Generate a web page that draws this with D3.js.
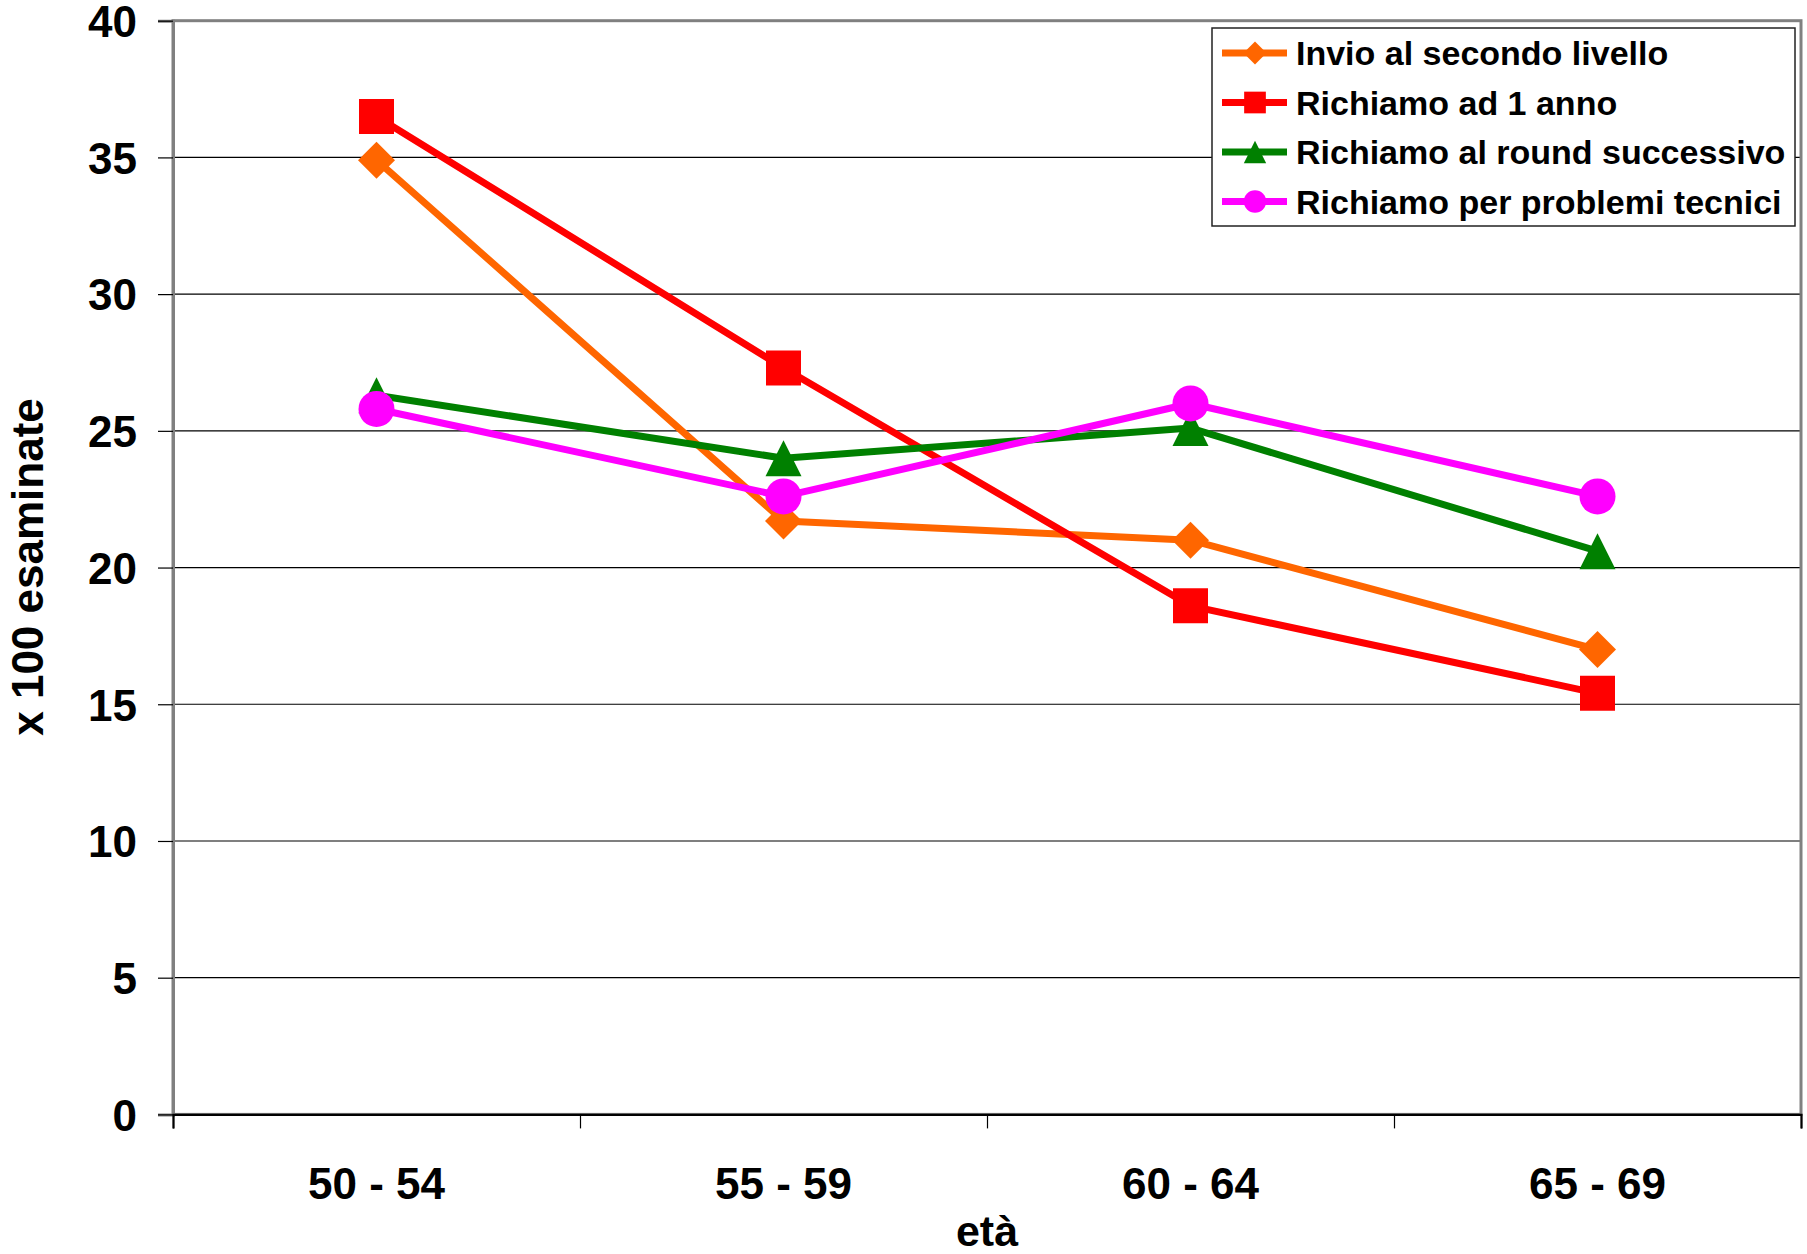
<!DOCTYPE html>
<html>
<head>
<meta charset="utf-8">
<script src="https://cdn.jsdelivr.net/npm/d3@7"></script>
<style>
  html, body { margin: 0; padding: 0; background: #fff; }
  svg { display: block; font-family: "Liberation Sans", Arial, sans-serif; font-weight: bold; }
</style>
</head>
<body>
<svg id="chart" width="1807" height="1254"></svg>
<script>
// Age groups and rates per 100 women screened
const categories = ["50 - 54", "55 - 59", "60 - 64", "65 - 69"];
const invioSecondoLivello = [34.9, 21.7, 21.0, 17.0];
const richiamoUnAnno = [36.5, 27.3, 18.6, 15.4];
const richiamoRoundSuccessivo = [26.3, 24.0, 25.1, 20.6];
const richiamoProblemiTecnici = [25.8, 22.6, 26.0, 22.6];
const seriesNames = [
  "Invio al secondo livello",
  "Richiamo ad 1 anno",
  "Richiamo al round successivo",
  "Richiamo per problemi tecnici"
];
const yTicks = [0, 5, 10, 15, 20, 25, 30, 35, 40];

const series = [
  { name: seriesNames[0], values: invioSecondoLivello, color: "#FF6600", marker: "diamond" },
  { name: seriesNames[1], values: richiamoUnAnno, color: "#FF0000", marker: "square" },
  { name: seriesNames[2], values: richiamoRoundSuccessivo, color: "#008000", marker: "triangle" },
  { name: seriesNames[3], values: richiamoProblemiTecnici, color: "#FF00FF", marker: "circle" }
];

const svg = d3.select("#chart");
const plotLeft = 173, plotRight = 1801, plotTop = 20.7, plotBottom = 1114.4;

const x = d3.scaleBand().domain(categories).range([plotLeft, plotRight]).padding(0);
const xEdges = d3.scaleLinear().domain([0, categories.length]).range([plotLeft, plotRight]);
const y = d3.scaleLinear().domain([0, 40]).range([plotBottom, plotTop]);

// horizontal gridlines
svg.append("g")
  .selectAll("line")
  .data(yTicks.filter(d => d > 0 && d < 40))
  .join("line")
  .attr("x1", plotLeft).attr("x2", plotRight)
  .attr("y1", d => y(d)).attr("y2", d => y(d))
  .attr("stroke", "#000").attr("stroke-width", 1.2);

// plot frame
svg.append("rect")
  .attr("x", plotLeft).attr("y", plotTop)
  .attr("width", plotRight - plotLeft).attr("height", plotBottom - plotTop)
  .attr("fill", "none").attr("stroke", "#808080").attr("stroke-width", 3);

// y axis
const yAxis = svg.append("g")
  .attr("transform", `translate(${plotLeft},0)`)
  .call(d3.axisLeft(y).tickValues(yTicks).tickSize(15).tickPadding(21));
yAxis.select(".domain").attr("stroke", "#808080").attr("stroke-width", 3);
yAxis.selectAll(".tick line").attr("stroke", "#000").attr("stroke-width", 1.2);
yAxis.selectAll(".tick text")
  .attr("font-size", 44).attr("font-weight", "bold").attr("fill", "#000")
  .attr("font-family", "'Liberation Sans', Arial, sans-serif").attr("dy", "0.36em");

// x axis: boundary ticks
const xTickAxis = svg.append("g")
  .attr("transform", `translate(0,${plotBottom})`)
  .call(d3.axisBottom(xEdges).tickValues(d3.range(categories.length + 1)).tickSize(14).tickFormat(""));
xTickAxis.select(".domain").attr("stroke", "#000").attr("stroke-width", 2.2);
xTickAxis.selectAll(".tick line").attr("stroke", "#000").attr("stroke-width", 1.2);

// x axis: category labels
const xLabelAxis = svg.append("g")
  .attr("transform", `translate(0,${plotBottom})`)
  .call(d3.axisBottom(x).tickSize(0).tickPadding(53));
xLabelAxis.select(".domain").remove();
xLabelAxis.selectAll(".tick text")
  .attr("font-size", 44).attr("font-weight", "bold").attr("fill", "#000")
  .attr("font-family", "'Liberation Sans', Arial, sans-serif");

// axis titles
svg.append("text")
  .attr("transform", "translate(43,567) rotate(-90)")
  .attr("text-anchor", "middle")
  .attr("font-size", 44)
  .text("x 100 esaminate");

svg.append("text")
  .attr("x", 987).attr("y", 1246)
  .attr("text-anchor", "middle")
  .attr("font-size", 43)
  .text("età");

// marker shapes
function markerPath(type) {
  switch (type) {
    case "diamond": return "M0,-18.5L18.5,0L0,18.5L-18.5,0Z";
    case "square": return "M-17.5,-17.5H17.5V17.5H-17.5Z";
    case "triangle": return "M0,-18L18,18H-18Z";
    case "circle": return d3.symbol(d3.symbolCircle, Math.PI * 18 * 18)();
  }
}

const line = d3.line()
  .x((d, i) => x(categories[i]) + x.bandwidth() / 2)
  .y(d => y(d));

series.forEach(s => {
  const g = svg.append("g");
  g.append("path")
    .attr("d", line(s.values))
    .attr("fill", "none")
    .attr("stroke", s.color)
    .attr("stroke-width", 7)
    .attr("stroke-linejoin", "round");
  g.selectAll("path.mk")
    .data(s.values)
    .join("path")
    .attr("class", "mk")
    .attr("d", markerPath(s.marker))
    .attr("transform", (d, i) => `translate(${x(categories[i]) + x.bandwidth() / 2},${y(d)})`)
    .attr("fill", s.color);
});

// legend
const legend = svg.append("g");
legend.append("rect")
  .attr("x", 1212).attr("y", 28).attr("width", 583).attr("height", 198)
  .attr("fill", "#fff").attr("stroke", "#222").attr("stroke-width", 1.5);

const items = legend.selectAll("g.item")
  .data(series)
  .join("g")
  .attr("class", "item")
  .attr("transform", (d, i) => `translate(0,${53 + i * 49.5})`);
items.append("line")
  .attr("x1", 1222).attr("x2", 1287).attr("y1", 0).attr("y2", 0)
  .attr("stroke", d => d.color).attr("stroke-width", 7);
items.append("path")
  .attr("d", d => markerPath(d.marker))
  .attr("transform", "translate(1255,0) scale(0.62)")
  .attr("fill", d => d.color);
items.append("text")
  .attr("x", 1296).attr("y", 12)
  .attr("font-size", 34)
  .attr("fill", "#000")
  .text(d => d.name);
</script>
</body>
</html>
